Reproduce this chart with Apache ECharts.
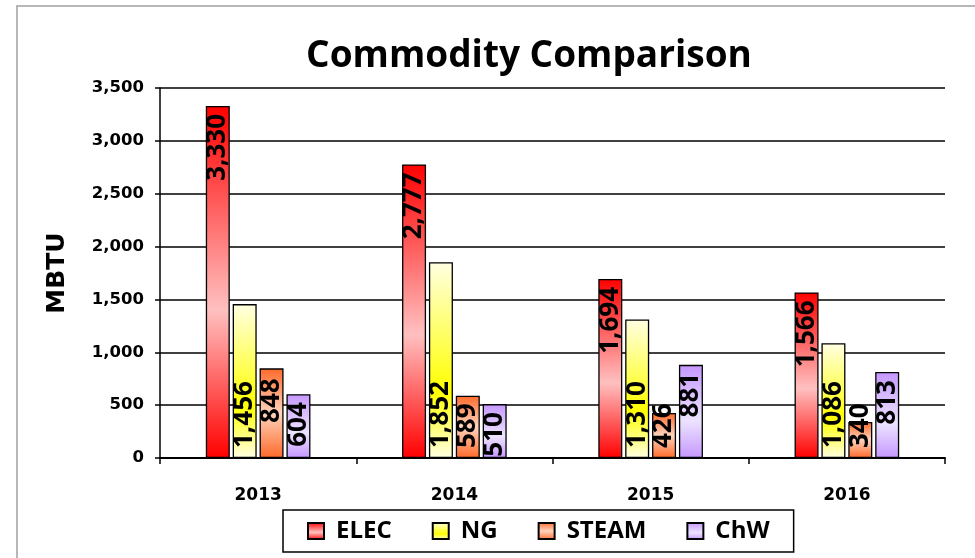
<!DOCTYPE html>
<html>
<head>
<meta charset="utf-8">
<title>Commodity Comparison</title>
<script src="https://cdn.jsdelivr.net/npm/echarts@6/dist/echarts.min.js"></script>
<style>
  html, body { margin: 0; padding: 0; background: #fff; }
  #chart { width: 975px; height: 558px; }
</style>
</head>
<body>
<div id="chart"></div>
<script>
  var years = ['2013', '2014', '2015', '2016'];
  var elec = [3330, 2777, 1694, 1566];
  var ng = [1456, 1852, 1310, 1086];
  var steam = [848, 589, 426, 340];
  var chw = [604, 510, 881, 813];

  function grad(edge, mid, at) {
    return new echarts.graphic.LinearGradient(0, 0, 0, 1, [
      { offset: 0, color: edge },
      { offset: at, color: mid },
      { offset: 1, color: edge }
    ]);
  }

  function fmt(v) {
    return Number(v).toLocaleString('en-US');
  }

  // labels turned 90deg, either hanging from the top or standing on the base
  function label(pos) {
    return {
      show: true,
      position: pos,
      rotate: 90,
      align: pos === 'insideTop' ? 'right' : 'left',
      verticalAlign: 'middle',
      distance: pos === 'insideTop' ? 8 : 10,
      fontFamily: 'Open Sans',
      fontWeight: 'bold',
      fontSize: 26,
      color: '#000',
      formatter: function (p) { return fmt(p.value); }
    };
  }

  function bar(name, values, color, pos) {
    return {
      name: name,
      type: 'bar',
      barWidth: 24,
      barGap: '12%',
      data: values.slice(),
      itemStyle: { color: color, borderColor: '#000', borderWidth: 1.3 },
      label: label(pos)
    };
  }

  var steamSeries = bar('STEAM', steam, grad('#ff6a2a', '#ffd3bd', 0.5), 'insideBottom');
  // first steam label sits up near the top of its bar
  steamSeries.data[0] = { value: steam[0], label: { position: 'insideTop', align: 'right', distance: 10 } };

  var chart = echarts.init(document.getElementById('chart'));
  chart.setOption({
    animation: false,
    backgroundColor: '#fff',
    graphic: [{
      type: 'rect',
      shape: { x: 17, y: 6, width: 1000, height: 600 },
      style: { fill: 'none', stroke: '#a0a0a0', lineWidth: 1.5 },
      silent: true
    }],
    title: {
      text: 'Commodity Comparison',
      left: 524,
      top: 33,
      textAlign: 'center',
      textStyle: { fontFamily: 'Open Sans', fontWeight: 'bold', fontSize: 37, color: '#000' }
    },
    legend: {
      data: ['ELEC', 'NG', 'STEAM', 'ChW'],
      left: 283,
      top: 510,
      padding: [9, 24],
      itemGap: 40,
      itemWidth: 16,
      itemHeight: 16,
      borderColor: '#000',
      borderWidth: 1.5,
      icon: 'rect',
      textStyle: { fontFamily: 'Open Sans', fontWeight: 'bold', fontSize: 24, color: '#000', padding: [0, 0, 0, 7] }
    },
    grid: { left: 160, right: 30, top: 88, bottom: 100 },
    xAxis: {
      type: 'category',
      data: years,
      axisLine: { lineStyle: { color: '#000', width: 2 } },
      axisTick: { show: true, length: 6, lineStyle: { color: '#000', width: 1.5 } },
      axisLabel: { margin: 29, fontFamily: 'DejaVu Sans', fontWeight: 'bold', fontSize: 17, color: '#000' }
    },
    yAxis: {
      type: 'value',
      min: 0,
      max: 3500,
      interval: 500,
      name: 'MBTU',
      nameLocation: 'middle',
      nameGap: 90,
      nameTextStyle: { fontFamily: 'DejaVu Sans', fontWeight: 'bold', fontSize: 25, color: '#000' },
      axisLine: { show: true, lineStyle: { color: '#000', width: 1.5 } },
      axisTick: { show: true, length: 5, lineStyle: { color: '#000', width: 1.5 } },
      splitLine: { lineStyle: { color: '#000', width: 1.6 } },
      axisLabel: { margin: 16, fontFamily: 'DejaVu Sans', fontWeight: 'bold', fontSize: 16.5, color: '#000', formatter: fmt }
    },
    series: [
      bar('ELEC', elec, grad('#ff0000', '#ffc0c0', 0.58), 'insideTop'),
      bar('NG', ng, grad('#ffffe2', '#ffff00', 0.66), 'insideBottom'),
      steamSeries,
      bar('ChW', chw, grad('#c597ff', '#ece3ff', 0.6), 'insideTop')
    ]
  });
</script>
</body>
</html>
